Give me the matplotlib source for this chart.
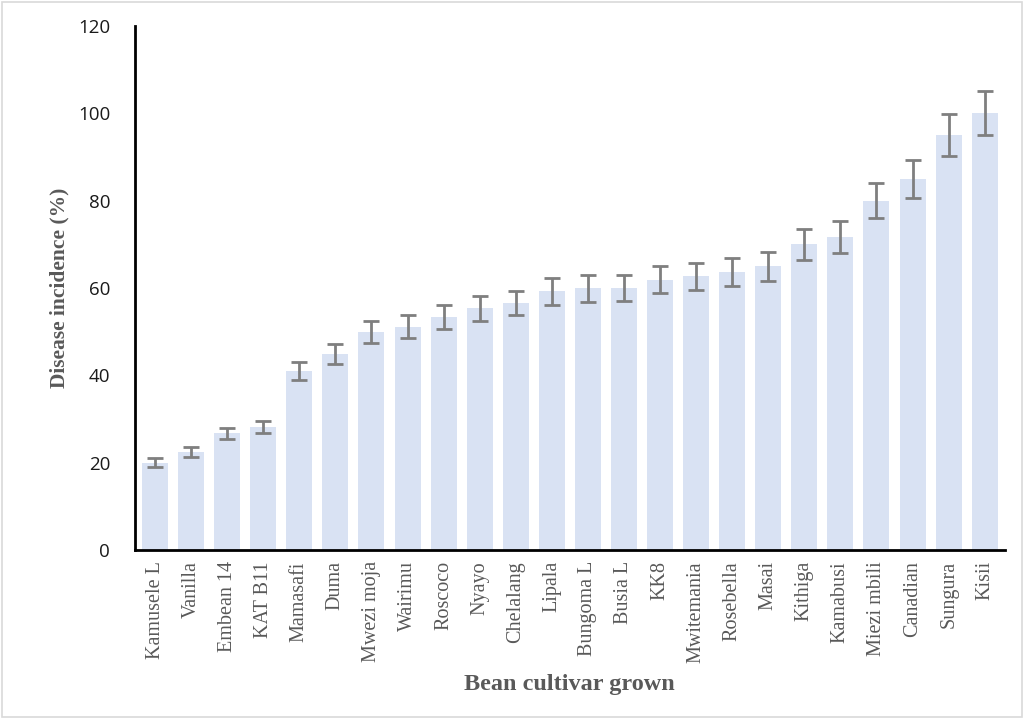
import matplotlib
matplotlib.use("Agg")
import numpy as np
import matplotlib.pyplot as plt
from matplotlib.patches import Rectangle

cultivars = ["Kamusele L", "Vanilla", "Embean 14", "KAT B11", "Mamasafi", "Duma",
             "Mwezi moja", "Wairimu", "Roscoco", "Nyayo", "Chelalang", "Lipala",
             "Bungoma L", "Busia L", "KK8", "Mwitemania", "Rosebella", "Masai",
             "Kithiga", "Kamabusi", "Miezi mbili", "Canadian", "Sungura", "Kisii"]
incidence = [20, 22.4, 26.7, 28.2, 41, 44.9, 49.9, 51.1, 53.4, 55.3, 56.6, 59.2,
             59.9, 60, 61.9, 62.7, 63.7, 65, 70, 71.7, 80, 85, 95, 100]
std_err = [1.0, 1.1, 1.3, 1.4, 2.1, 2.2, 2.5, 2.6, 2.7, 2.8, 2.8, 3.0,
           3.0, 3.0, 3.1, 3.1, 3.2, 3.3, 3.6, 3.7, 4.0, 4.3, 4.8, 5.0]
yticks = [0, 20, 40, 60, 80, 100, 120]

fig = plt.figure(figsize=(10.24, 7.19), dpi=100)
ax = fig.add_axes([0.132, 0.235, 0.849, 0.729])

x = np.arange(len(cultivars))
ax.bar(x, incidence, width=0.72, color="#D9E2F3", zorder=1)
ax.errorbar(x, incidence, yerr=std_err, fmt="none", ecolor="#7F7F7F",
            elinewidth=2, capsize=6, capthick=2, zorder=2)

ax.set_xlim(-0.55, len(cultivars) - 0.45)
ax.set_ylim(0, 120)
ax.set_yticks(yticks)
ax.set_yticklabels([str(v) for v in yticks], fontsize=13.5, family="Open Sans",
                   color="#1a1a1a")
ax.set_xticks(x)
ax.set_xticklabels(cultivars, rotation=90, fontsize=14.5, family="Liberation Serif",
                   color="#595959", va="top")
ax.tick_params(axis="both", length=0)
ax.tick_params(axis="y", pad=18)
ax.tick_params(axis="x", pad=8)

for side in ["top", "right"]:
    ax.spines[side].set_visible(False)
for side in ["left", "bottom"]:
    ax.spines[side].set_linewidth(2)
    ax.spines[side].set_color("black")

ax.set_ylabel("Disease incidence (%)", fontsize=15.5, fontweight="bold",
              family="Liberation Serif", color="#595959")
ax.set_xlabel("Bean cultivar grown", fontsize=17.5, fontweight="bold",
              family="Liberation Serif", color="#595959")
ax.yaxis.set_label_coords(-0.076, 0.5)
ax.xaxis.set_label_coords(0.5, -0.237)

# light frame around the whole chart area
fig.patches.append(Rectangle((0.002, 0.003), 0.996, 0.994, transform=fig.transFigure,
                             fill=False, edgecolor="#d9d9d9", linewidth=1.2))

fig.savefig("out.png", dpi=100)
